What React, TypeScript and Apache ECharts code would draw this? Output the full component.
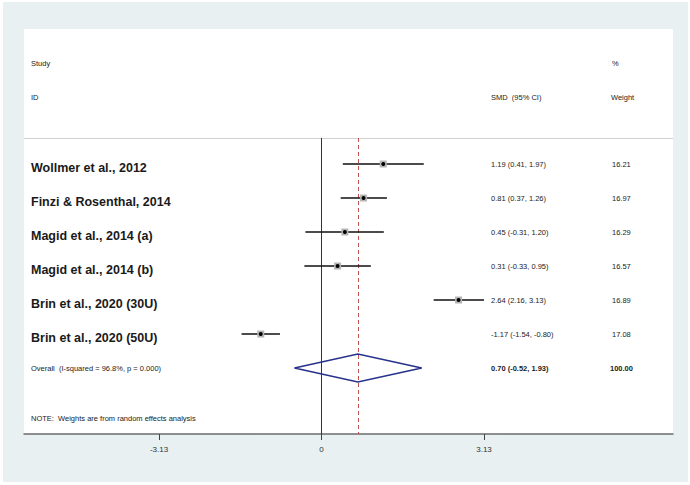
import React, { useEffect, useRef } from "react";
import * as echarts from "echarts";

// ---- data ----
const studies = [
  "Wollmer et al., 2012",
  "Finzi & Rosenthal, 2014",
  "Magid et al., 2014 (a)",
  "Magid et al., 2014 (b)",
  "Brin et al., 2020 (30U)",
  "Brin et al., 2020 (50U)",
];
const smd = [1.19, 0.81, 0.45, 0.31, 2.64, -1.17];
const lower = [0.41, 0.37, -0.31, -0.33, 2.16, -1.54];
const upper = [1.97, 1.26, 1.2, 0.95, 3.13, -0.8];
const weights = ["16.21", "16.97", "16.29", "16.57", "16.89", "17.08"];
const overallEst = 0.7;
const overallLower = -0.52;
const overallUpper = 1.93;
const overallWeight = "100.00";
const overallLabel = "Overall  (I-squared = 96.8%, p = 0.000)";
const xTicks = [-3.13, 0, 3.13];

const FONT = "'Liberation Sans', Arial, sans-serif";
const X_MIN = -5.73;
const X_MAX = 6.77;
const Y_MIN = -3.97;
const Y_MAX = 7.94;
const HEADER_ROW = -0.765;
const OVERALL_ROW = studies.length;

const fmt = (v: number) => v.toFixed(2);
const ciText = (e: number, l: number, h: number) => `${fmt(e)} (${fmt(l)}, ${fmt(h)})`;

export default function App() {
  const ref = useRef<HTMLDivElement>(null);
  useEffect(() => {
    if (!ref.current) return;
    const chart = echarts.init(ref.current, null, { renderer: "svg" });

    const studyData = studies.map((s, i) => [i, smd[i], lower[i], upper[i]]);
    const textData = studies.map((s, i) => [i, smd[i]]);

    const smallText = (text: string, x: number, y: number, bold = false) => ({
      type: "text",
      x,
      y,
      style: {
        text,
        fill: "#222",
        fontSize: 7.5,
        fontFamily: FONT,
        fontWeight: bold ? "bold" : "normal",
        verticalAlign: "middle",
        align: "left",
      },
    });

    const option: any = {
      animation: false,
      backgroundColor: "#ffffff",
      graphic: [
        {
          type: "rect",
          z: -10,
          silent: true,
          shape: { x: 3, y: 2, width: 685, height: 480 },
          style: { fill: "#e8f0f2" },
        },
        {
          type: "rect",
          z: -9,
          silent: true,
          shape: { x: 24, y: 29, width: 649, height: 405 },
          style: { fill: "#ffffff" },
        },
        smallText("Study", 31, 63),
        smallText("ID", 31, 97),
        smallText("SMD  (95% CI)", 491, 97),
        smallText("%", 612, 63),
        smallText("Weight", 611, 97),
        smallText("NOTE:  Weights are from random effects analysis", 31, 418),
      ],
      grid: { left: 24, right: 17, top: 29, bottom: 51, show: false },
      xAxis: {
        type: "value",
        min: X_MIN,
        max: X_MAX,
        position: "bottom",
        splitLine: { show: false },
        axisLine: { show: true, onZero: false, lineStyle: { color: "#6b6b6b", width: 1.5 } },
        axisTick: {
          show: true,
          customValues: xTicks,
          length: 6,
          lineStyle: { color: "#444", width: 1 },
        },
        axisLabel: {
          show: true,
          customValues: xTicks,
          margin: 11,
          fontSize: 8,
          color: "#333",
          fontFamily: FONT,
          formatter: (v: number) => (v === 0 ? "0" : v.toFixed(2)),
        },
      },
      yAxis: {
        type: "value",
        inverse: true,
        min: Y_MIN,
        max: Y_MAX,
        show: false,
        splitLine: { show: false },
      },
      series: [
        {
          type: "custom",
          name: "refs",
          data: [[0, 0]],
          renderItem: () => ({ type: "group", children: [] }),
          markLine: {
            silent: true,
            symbol: "none",
            label: { show: false },
            data: [
              [
                { coord: [X_MIN, HEADER_ROW], lineStyle: { color: "#d0d0d0", width: 1, type: "solid" } },
                { coord: [X_MAX, HEADER_ROW] },
              ],
              [
                { coord: [0, HEADER_ROW], lineStyle: { color: "#333", width: 1, type: "solid" } },
                { coord: [0, Y_MAX] },
              ],
              [
                { coord: [overallEst, HEADER_ROW], lineStyle: { color: "#c0504d", width: 1, type: [4, 3] } },
                { coord: [overallEst, Y_MAX] },
              ],
            ],
          },
        },
        {
          type: "custom",
          name: "studies",
          z: 5,
          data: studyData,
          encode: { x: [1, 2, 3], y: 0 },
          renderItem: (params: any, api: any) => {
            const row = api.value(0);
            const e = api.value(1);
            const l = api.value(2);
            const h = api.value(3);
            const pl = api.coord([l, row]);
            const ph = api.coord([h, row]);
            const pe = api.coord([e, row]);
            return {
              type: "group",
              children: [
                {
                  type: "line",
                  shape: { x1: pl[0], y1: pl[1], x2: ph[0], y2: ph[1] },
                  style: { stroke: "#111", lineWidth: 1.5 },
                },
                {
                  type: "rect",
                  shape: { x: pe[0] - 3.5, y: pe[1] - 3.5, width: 7, height: 7 },
                  style: { fill: "#b5b5b5" },
                },
                {
                  type: "circle",
                  shape: { cx: pe[0], cy: pe[1], r: 2 },
                  style: { fill: "#000" },
                },
              ],
            };
          },
        },
        {
          type: "custom",
          name: "overall",
          z: 5,
          data: [[OVERALL_ROW, overallEst, overallLower, overallUpper]],
          encode: { x: [1, 2, 3], y: 0 },
          renderItem: (params: any, api: any) => {
            const row = api.value(0);
            const e = api.value(1);
            const l = api.value(2);
            const h = api.value(3);
            const half = 0.41;
            const pts = [
              api.coord([l, row]),
              api.coord([e, row - half]),
              api.coord([h, row]),
              api.coord([e, row + half]),
            ];
            return {
              type: "polygon",
              shape: { points: pts },
              style: { fill: "none", stroke: "#25318a", lineWidth: 1.6 },
            };
          },
        },
        {
          type: "custom",
          name: "texts",
          z: 6,
          data: textData,
          encode: { x: 1, y: 0 },
          renderItem: (params: any, api: any) => {
            const i = params.dataIndex;
            const row = api.value(0);
            const y = api.coord([0, row])[1];
            return {
              type: "group",
              children: [
                {
                  type: "text",
                  x: 31,
                  y: y + 4,
                  style: {
                    text: studies[i],
                    fill: "#1a1a1a",
                    fontSize: 12.5,
                    fontWeight: "bold",
                    fontFamily: FONT,
                    verticalAlign: "middle",
                    align: "left",
                  },
                },
                smallText(ciText(smd[i], lower[i], upper[i]), 491, y),
                smallText(weights[i], 612, y),
              ],
            };
          },
        },
        {
          type: "custom",
          name: "overallText",
          z: 6,
          data: [[OVERALL_ROW, overallEst]],
          encode: { x: 1, y: 0 },
          renderItem: (params: any, api: any) => {
            const y = api.coord([0, api.value(0)])[1];
            return {
              type: "group",
              children: [
                smallText(overallLabel, 31, y),
                smallText(ciText(overallEst, overallLower, overallUpper), 491, y, true),
                smallText(overallWeight, 610, y, true),
              ],
            };
          },
        },
      ],
    };

    chart.setOption(option);
    return () => chart.dispose();
  }, []);

  return (
    <div
      ref={ref}
      style={{ position: "fixed", left: 0, top: 0, width: 690, height: 485 }}
    />
  );
}
